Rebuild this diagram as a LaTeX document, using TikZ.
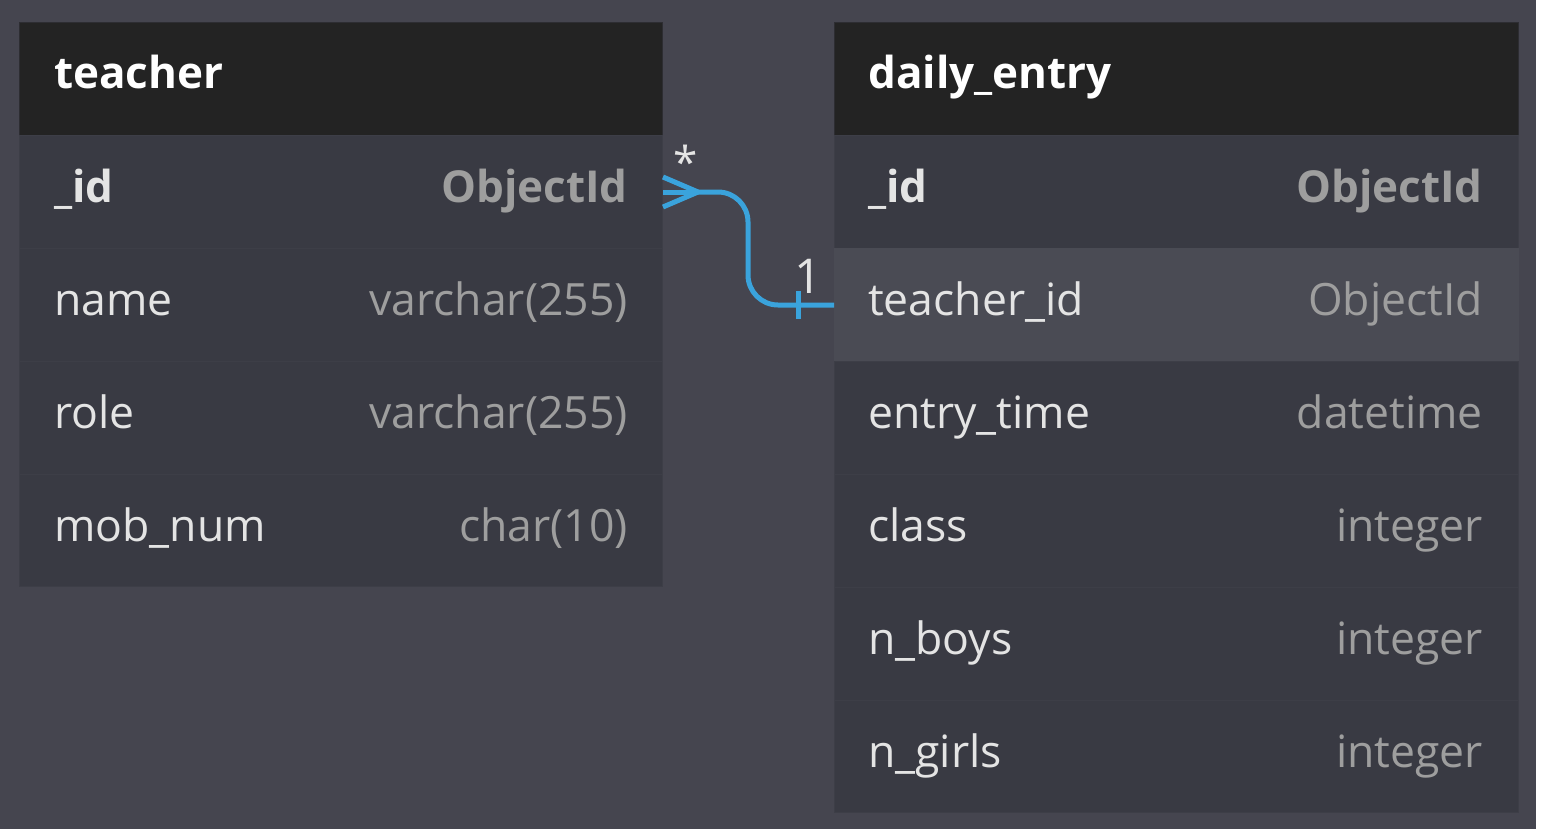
\documentclass[tikz,border=0pt]{standalone}
\usepackage{fontspec}
\setmainfont{Open Sans}
\definecolor{canvas}{RGB}{69,69,79}
\definecolor{headcol}{RGB}{35,35,35}
\definecolor{headedge}{RGB}{45,45,50}
\definecolor{rowcol}{RGB}{57,58,67}
\definecolor{rowedge}{RGB}{61,62,71}
\definecolor{hilitecol}{RGB}{74,75,84}
\definecolor{namecol}{RGB}{228,228,228}
\definecolor{typecol}{RGB}{158,158,158}
\definecolor{relcol}{RGB}{58,163,220}

\begin{document}
\begin{tikzpicture}[x=1pt,y=-1pt,
	tblhead/.style={fill=headcol, draw=headedge, line width=1pt, anchor=north west,
		minimum height=113pt, inner sep=0pt},
	tblrow/.style={tblhead, fill=rowcol, draw=rowedge},
	title/.style={anchor=base west, inner sep=0pt, text=white,
		font=\fontsize{44}{44}\selectfont\bfseries},
	fieldname/.style={anchor=base west, inner sep=0pt, text=namecol,
		font=\fontsize{44.5}{44}\selectfont},
	fieldtype/.style={anchor=base east, inner sep=0pt, text=typecol,
		font=\fontsize{44.5}{44}\selectfont},
	rel/.style={draw=relcol, line width=5pt}]
	%canvas
		\useasboundingbox (0,0) rectangle (1555,839);
		\fill[white] (0,0) rectangle (1555,839);
		\fill[canvas] (0,0) rectangle (1536,829);
	%table teacher
		\node[tblhead, minimum width=643pt] (t-head) at (19,22) {};
		\node[tblrow, minimum width=643pt] (t-id) at (19,135) {};
		\node[tblrow, minimum width=643pt] (t-name) at (19,248) {};
		\node[tblrow, minimum width=643pt] (t-role) at (19,361) {};
		\node[tblrow, minimum width=643pt, minimum height=112pt] (t-mob) at (19,474) {};
		\node[title] (t-title) at (54,88) {teacher};
		\node[fieldname, font=\fontsize{44}{44}\selectfont\bfseries] (t-id-n) at (54,202) {\_id};
		\node[fieldtype, font=\fontsize{44}{44}\selectfont\bfseries] (t-id-t) at (628,202) {ObjectId};
		\node[fieldname] (t-name-n) at (54,315) {name};
		\node[fieldtype] (t-name-t) at (628,315) {varchar(255)};
		\node[fieldname] (t-role-n) at (54,428) {role};
		\node[fieldtype] (t-role-t) at (628,428) {varchar(255)};
		\node[fieldname] (t-mob-n) at (54,541) {mob\_num};
		\node[fieldtype] (t-mob-t) at (628,541) {char(10)};
	%table daily_entry
		\node[tblhead, minimum width=684pt] (d-head) at (834,22) {};
		\node[tblrow, minimum width=684pt] (d-id) at (834,135) {};
		\node[tblrow, minimum width=684pt, fill=hilitecol, draw=hilitecol] (d-tid) at (834,248) {};
		\node[tblrow, minimum width=684pt] (d-time) at (834,361) {};
		\node[tblrow, minimum width=684pt] (d-class) at (834,474) {};
		\node[tblrow, minimum width=684pt] (d-boys) at (834,587) {};
		\node[tblrow, minimum width=684pt, minimum height=112pt] (d-girls) at (834,700) {};
		\node[title] (d-title) at (868,88) {daily\_entry};
		\node[fieldname, font=\fontsize{44}{44}\selectfont\bfseries] (d-id-n) at (868,202) {\_id};
		\node[fieldtype, font=\fontsize{44}{44}\selectfont\bfseries] (d-id-t) at (1483,202) {ObjectId};
		\node[fieldname] (d-tid-n) at (868,315) {teacher\_id};
		\node[fieldtype] (d-tid-t) at (1483,315) {ObjectId};
		\node[fieldname] (d-time-n) at (868,428) {entry\_time};
		\node[fieldtype] (d-time-t) at (1483,428) {datetime};
		\node[fieldname] (d-class-n) at (868,541) {class};
		\node[fieldtype] (d-class-t) at (1483,541) {integer};
		\node[fieldname] (d-boys-n) at (868,654) {n\_boys};
		\node[fieldtype] (d-boys-t) at (1483,654) {integer};
		\node[fieldname] (d-girls-n) at (868,767) {n\_girls};
		\node[fieldtype] (d-girls-t) at (1483,767) {integer};
	%relation teacher._id < daily_entry.teacher_id
		\coordinate (crow) at ([xshift=35pt]t-id.east);
		\draw[rel] (t-id.east) -- (crow);
		\draw[rel] ([yshift=15pt]t-id.east) -- (crow);
		\draw[rel] ([yshift=-15pt]t-id.east) -- (crow);
		\draw[rel, rounded corners=30pt] (crow) -| ([xshift=-86pt]d-tid.west) -- (d-tid.west);
		\draw[rel] ([xshift=-36pt,yshift=14pt]d-tid.west) -- ([xshift=-36pt,yshift=-14pt]d-tid.west);
		\node[text=namecol, font=\fontsize{44}{44}\selectfont] (star) at (686,162) {*};
		\node[text=namecol, font=\fontsize{48}{48}\selectfont] (one) at (808,276) {1};
\end{tikzpicture}
\end{document}
